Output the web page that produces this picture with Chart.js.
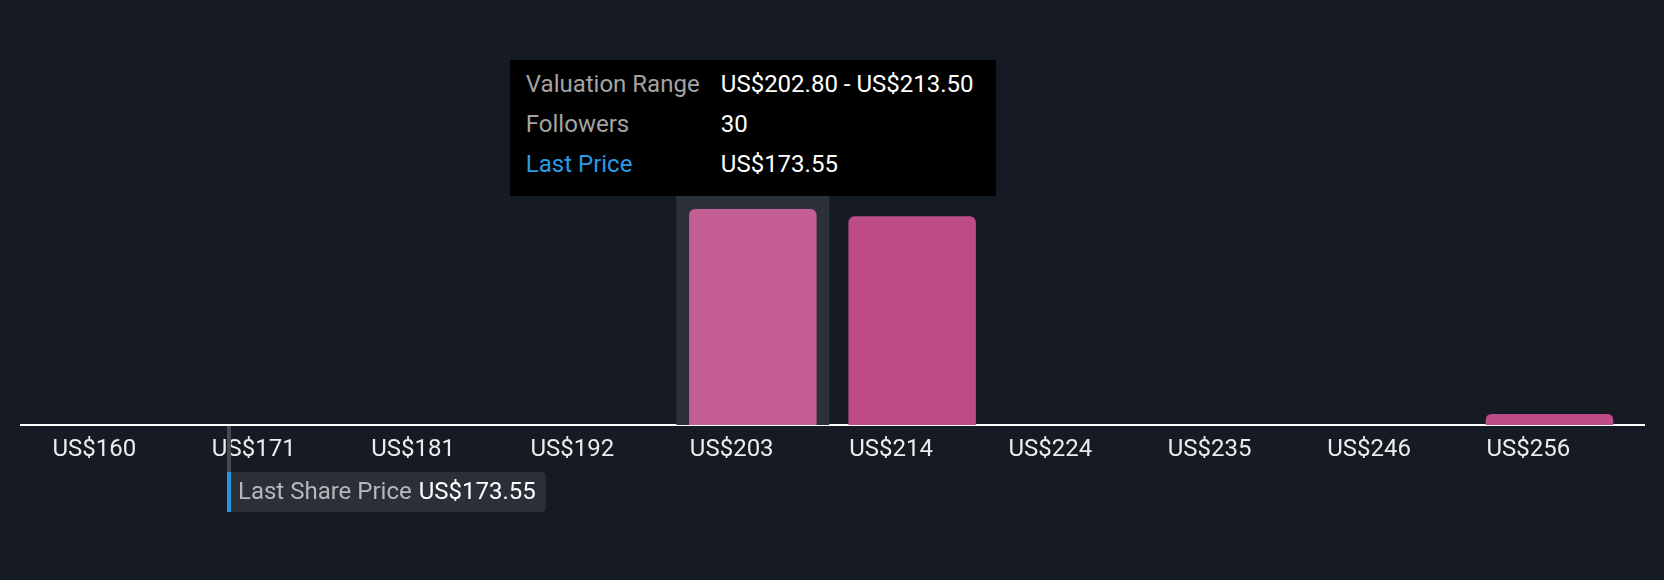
<!DOCTYPE html>
<html>
<head>
<meta charset="utf-8">
<script src="https://cdn.jsdelivr.net/npm/chart.js@4.4.1/dist/chart.umd.min.js"></script>
<style>
  html, body { margin: 0; padding: 0; background: #151a23; }
  #wrap { position: relative; width: 1664px; height: 580px; overflow: hidden; }
  canvas { display: block; }
  #tip {
    position: absolute; display: none; box-sizing: border-box;
    width: 486px; height: 136px; padding: 4px 0 0 16px;
    background: #000; color: #fff; font: 24px Roboto, sans-serif;
    white-space: nowrap; pointer-events: none;
  }
  #tip table { border-collapse: collapse; border-spacing: 0; }
  #tip td { padding: 0; height: 40px; line-height: 40px; }
  #tip td.k { width: 195px; color: #a3a3a3; }
  #tip td.k.blue { color: #2b9ae3; }
  #tip td.v { color: #ffffff; }
</style>
</head>
<body>
<div id="wrap">
  <canvas id="c" width="1664" height="580"></canvas>
  <div id="tip"></div>
</div>
<script>
// ---- data ----
const binStarts = [160.0, 170.7, 181.4, 192.1, 202.8, 213.5, 224.2, 234.9, 245.6, 256.3];
const binWidth = 10.7;
const tickLabels = ['US$160', 'US$171', 'US$181', 'US$192', 'US$203', 'US$214', 'US$224', 'US$235', 'US$246', 'US$256'];
const followers = [0, 0, 0, 0, 30, 29, 0, 0, 0, 1];
const lastPrice = 173.55;
const activeIndex = 4;

// ---- helpers ----
const fmt = v => 'US$' + v.toFixed(2);
const binCenters = binStarts.map(s => s + binWidth / 2);
const rangeMin = binStarts[0];
const rangeMax = binStarts[binStarts.length - 1] + binWidth;
const edgePad = 1.0;

const barData = binCenters.map((x, i) => ({ x: x, y: followers[i] === 0 ? null : followers[i] }));

const hoverBgPlugin = {
  id: 'hoverBg',
  beforeDatasetsDraw(chart) {
    const el = chart.getDatasetMeta(0).data[activeIndex];
    if (!el) return;
    const { ctx, chartArea } = chart;
    const w = el.width / 0.8 * 0.96;
    ctx.save();
    ctx.fillStyle = '#2c3039';
    ctx.fillRect(el.x - w / 2, chartArea.top, w, chartArea.bottom - chartArea.top);
    ctx.restore();
  }
};

const lastPricePlugin = {
  id: 'lastPrice',
  afterDraw(chart) {
    const { ctx } = chart;
    const sc = chart.scales.xPrice;
    const px = Math.round(sc.getPixelForValue(lastPrice));
    const axisY = chart.chartArea.bottom;
    const boxTop = 472, boxH = 40;
    ctx.save();
    ctx.fillStyle = '#464a53';
    ctx.fillRect(px, axisY + 1, 4, boxTop - axisY - 1);
    ctx.font = '24px Roboto, sans-serif';
    const label = 'Last Share Price ';
    const value = fmt(lastPrice);
    const lw = ctx.measureText(label).width;
    const vw = ctx.measureText(value).width;
    const boxW = 11 + lw + vw + 11;
    ctx.fillStyle = '#2c2f38';
    ctx.beginPath();
    ctx.roundRect(px, boxTop, boxW, boxH, [0, 4, 4, 0]);
    ctx.fill();
    ctx.fillStyle = '#2394df';
    ctx.fillRect(px, boxTop, 4, boxH);
    ctx.textBaseline = 'alphabetic';
    ctx.fillStyle = '#b5b7bb';
    ctx.fillText(label, px + 11, boxTop + 27);
    ctx.fillStyle = '#ffffff';
    ctx.fillText(value, px + 12 + lw, boxTop + 27);
    ctx.restore();
  }
};

function externalTooltip(context) {
  const { tooltip } = context;
  const tip = document.getElementById('tip');
  if (tooltip.opacity === 0 || !tooltip.dataPoints || !tooltip.dataPoints.length) {
    tip.style.display = 'none';
    return;
  }
  const i = tooltip.dataPoints[0].dataIndex;
  const rows = [
    ['Valuation Range', fmt(binStarts[i]) + ' - ' + fmt(binStarts[i] + binWidth), ''],
    ['Followers', String(followers[i]), ''],
    ['Last Price', fmt(lastPrice), ' blue']
  ];
  tip.innerHTML = '<table>' + rows.map(r =>
    '<tr><td class="k' + r[2] + '">' + r[0] + '</td><td class="v">' + r[1] + '</td></tr>').join('') + '</table>';
  tip.style.display = 'block';
  const w = tip.offsetWidth, h = tip.offsetHeight;
  tip.style.left = (tooltip.caretX - w / 2) + 'px';
  tip.style.top = (tooltip.caretY - h - 13) + 'px';
}

const chart = new Chart(document.getElementById('c'), {
  type: 'bar',
  data: {
    datasets: [{
      data: barData,
      backgroundColor: binStarts.map((_, i) => i === activeIndex ? '#c45e95' : '#bc4b88'),
      hoverBackgroundColor: binStarts.map((_, i) => i === activeIndex ? '#c45e95' : '#bc4b88'),
      borderWidth: 0,
      borderRadius: { topLeft: 6, topRight: 6, bottomLeft: 0, bottomRight: 0 },
      borderSkipped: 'bottom',
      categoryPercentage: 0.8,
      barPercentage: 1.0,
      minBarLength: 11
    }]
  },
  options: {
    responsive: false,
    animation: false,
    devicePixelRatio: 1,
    events: [],
    layout: { padding: { left: 21, right: 20, top: 65, bottom: 115 } },
    plugins: {
      legend: { display: false },
      tooltip: { enabled: false, external: externalTooltip }
    },
    scales: {
      x: {
        type: 'linear',
        position: 'bottom',
        offset: false,
        z: 1,
        min: rangeMin - edgePad,
        max: rangeMax + edgePad,
        afterBuildTicks: s => { s.ticks = binCenters.map(v => ({ value: v })); },
        afterFit: s => { s.height = 40; },
        grid: { display: false, drawTicks: false, offset: false },
        border: { display: true, color: '#ffffff', width: 2 },
        ticks: {
          autoSkip: false,
          maxRotation: 0,
          align: 'start',
          labelOffset: -63,
          padding: 11,
          color: '#ececec',
          font: { family: 'Roboto', size: 24 },
          callback: (v, idx) => tickLabels[idx]
        }
      },
      xPrice: {
        type: 'linear',
        axis: 'x',
        position: 'bottom',
        offset: false,
        display: false,
        grid: { offset: false },
        min: rangeMin,
        max: rangeMax
      },
      y: {
        display: false,
        min: 0,
        max: 50
      }
    }
  },
  plugins: [hoverBgPlugin, lastPricePlugin]
});

chart.setActiveElements([{ datasetIndex: 0, index: activeIndex }]);
chart.tooltip.setActiveElements([{ datasetIndex: 0, index: activeIndex }], { x: 0, y: 0 });
chart.update();
</script>
</body>
</html>
